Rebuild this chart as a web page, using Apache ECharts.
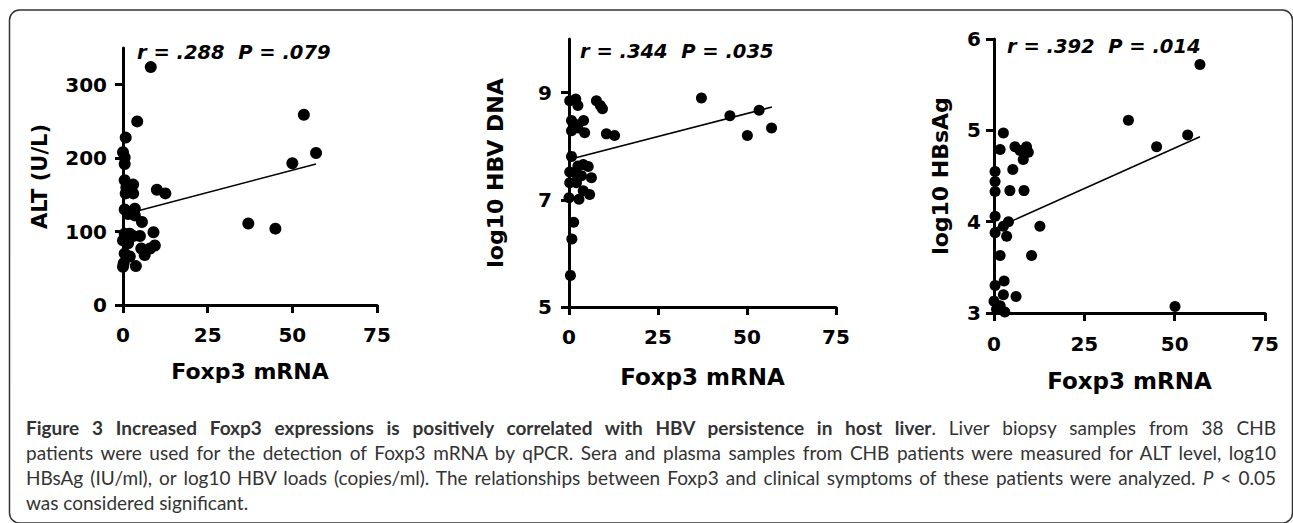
<!DOCTYPE html>
<html>
<head>
<meta charset="utf-8">
<title>Foxp3 mRNA correlations</title>
<script src="https://cdn.jsdelivr.net/npm/echarts@6.0.0/dist/echarts.min.js"></script>
<style>
  html, body { margin: 0; padding: 0; background: #fff; }
  #wrap { position: relative; width: 1293px; height: 523px; overflow: hidden; }
  #chart { width: 1293px; height: 523px; }
  .caption {
    position: absolute; left: 26px; top: 415px; width: 1250px;
    font-family: Lato; font-size: 19px; line-height: 25px; color: #333;
  }
  .caption div { text-align: justify; text-align-last: justify; }
  .caption div.last { text-align-last: left; }
</style>
</head>
<body>
<div id="wrap">
  <div id="chart"></div>
  <div class="caption">
    <div><b>Figure 3 Increased Foxp3 expressions is positively correlated with HBV persistence in host liver</b>. Liver biopsy samples from 38 CHB</div>
    <div>patients were used for the detection of Foxp3 mRNA by qPCR. Sera and plasma samples from CHB patients were measured for ALT level, log10</div>
    <div>HBsAg (IU/ml), or log10 HBV loads (copies/ml). The relationships between Foxp3 and clinical symptoms of these patients were analyzed. <i>P</i> &lt; 0.05</div>
    <div class="last">was considered significant.</div>
  </div>
</div>
<script>
// 横轴在三个面板里都一样
const xTicks = [0, 25, 50, 75];
const xName = 'Foxp3 mRNA';

// 面板一：ALT
const altFoxp3 = [8.2, 4.2, 0.8, 0, 0.5, 0.5, 0.5, 1, 3, 3, 0.8, 10, 12.5, 0.5, 3.5, 1.5, 3.5, 5.6, 0.5, 2,
  3, 5, 9, 0, 1.5, 0.5, 2, 5.4, 6.4, 8, 9.4, 0.2, 0, 3.8, 37, 45, 50, 53.4, 57];
const altLevel = [324, 250, 228, 208, 201, 192, 170, 160, 164, 152, 152, 157, 152, 130, 131, 124, 122, 113, 97, 97,
  94, 94, 99, 88, 84, 70, 66, 77, 68, 77, 81, 57, 52, 53, 111, 104, 193, 259, 207];
const altTicks = [0, 100, 200, 300];
const altFitX = [0, 57];
const altFitY = [123, 192];

// 面板二：log10 HBV DNA
const dnaFoxp3 = [0.2, 1.9, 2.5, 7.7, 8.8, 9.4, 37.2, 45.2, 53.4, 50.1, 56.9, 0.7, 2.5, 4.1, 0.7, 2.5, 4.4, 10.5,
  12.8, 0.7, 0.2, 2.5, 4.0, 5.4, 6.3, 2.1, 0.2, 2.1, 4.0, 5.8, 2.8, 0, 1.3, 0.8, 0.4, 3.5];
const dnaLevel = [8.85, 8.88, 8.76, 8.85, 8.76, 8.7, 8.9, 8.57, 8.67, 8.2, 8.34, 8.48, 8.4, 8.48, 8.29, 8.34, 8.25,
  8.23, 8.2, 7.81, 7.52, 7.63, 7.66, 7.62, 7.41, 7.48, 7.32, 7.32, 7.17, 7.1, 7.01, 7.04, 6.58, 6.27, 5.59, 7.45];
const dnaTicks = [5, 7, 9];
const dnaFitX = [0, 57];
const dnaFitY = [7.75, 8.73];

// 面板三：log10 HBsAg
const hbsFoxp3 = [57, 37.2, 53.6, 45, 50.1, 2.6, 1.7, 5.8, 7.2, 9, 9.5, 8.1, 5.2, 0.3, 0.3, 0.3, 4.4, 8.3, 0.3, 4,
  2.6, 0.3, 3.5, 12.7, 10.4, 1.7, 2.8, 0.3, 2.6, 6.1, 0, 0.7, 3, 1.7];
const hbsLevel = [5.72, 5.11, 4.95, 4.82, 3.07, 4.97, 4.79, 4.82, 4.78, 4.82, 4.76, 4.68, 4.57, 4.55, 4.44, 4.33,
  4.34, 4.34, 4.06, 4.0, 3.95, 3.88, 3.84, 3.95, 3.63, 3.63, 3.35, 3.3, 3.2, 3.18, 3.13, 3.04, 3.01, 3.08];
const hbsTicks = [3, 4, 5, 6];
const hbsFitX = [0, 57];
const hbsFitY = [3.92, 4.93];

const yNames = ['ALT (U/L)', 'log10 HBV DNA', 'log10 HBsAg'];
const statLabels = ['r = .288  P = .079', 'r = .344  P = .035', 'r = .392  P = .014'];

const FONT = 'DejaVu Sans';

function pairs(xs, ys) {
  return xs.map((x, i) => [x, ys[i]]);
}

// 公共的坐标轴样式，ticks 决定刻度和标签位置
function makeAxis(ticks, opt) {
  return {
    type: 'value',
    gridIndex: opt.grid,
    min: opt.min,
    max: opt.max,
    name: opt.name,
    nameLocation: 'middle',
    nameGap: opt.nameGap,
    nameTextStyle: { color: '#000', fontFamily: FONT, fontWeight: 'bold', fontSize: opt.nameSize },
    splitLine: { show: false },
    axisLine: { show: true, onZero: false, lineStyle: { color: '#000', width: 3 } },
    axisTick: { show: true, length: 8, customValues: ticks, lineStyle: { color: '#000', width: 3 } },
    axisLabel: {
      customValues: ticks, margin: opt.margin, color: '#000',
      fontFamily: FONT, fontWeight: 'bold', fontSize: 20
    }
  };
}

// canvas 下坐标轴线画不出来，改用 svg
const chart = echarts.init(document.getElementById('chart'), null, { renderer: 'svg' });

const option = {
  animation: false,
  grid: [
    { left: 123, top: 48, width: 254, height: 257 },
    { left: 569, top: 39, width: 267, height: 268 },
    { left: 994, top: 39, width: 271, height: 274 }
  ],
  xAxis: [
    makeAxis(xTicks, { grid: 0, min: 0, max: 75, name: xName, nameGap: 55, nameSize: 22, margin: 20 }),
    makeAxis(xTicks, { grid: 1, min: 0, max: 75, name: xName, nameGap: 58, nameSize: 23, margin: 20 }),
    makeAxis(xTicks, { grid: 2, min: 0, max: 75, name: xName, nameGap: 56, nameSize: 23, margin: 21 })
  ],
  yAxis: [
    makeAxis(altTicks, { grid: 0, min: 0, max: 350, name: yNames[0], nameGap: 73, nameSize: 21, margin: 16 }),
    makeAxis(dnaTicks, { grid: 1, min: 5, max: 10, name: yNames[1], nameGap: 63, nameSize: 22, margin: 17 }),
    makeAxis(hbsTicks, { grid: 2, min: 3, max: 6, name: yNames[2], nameGap: 43, nameSize: 22, margin: 13 })
  ],
  series: [
    { type: 'line', xAxisIndex: 0, yAxisIndex: 0, data: pairs(altFitX, altFitY) },
    { type: 'line', xAxisIndex: 1, yAxisIndex: 1, data: pairs(dnaFitX, dnaFitY) },
    { type: 'line', xAxisIndex: 2, yAxisIndex: 2, data: pairs(hbsFitX, hbsFitY) },
    { type: 'scatter', xAxisIndex: 0, yAxisIndex: 0, symbolSize: 12, data: pairs(altFoxp3, altLevel) },
    { type: 'scatter', xAxisIndex: 1, yAxisIndex: 1, symbolSize: 11, data: pairs(dnaFoxp3, dnaLevel) },
    { type: 'scatter', xAxisIndex: 2, yAxisIndex: 2, symbolSize: 11, data: pairs(hbsFoxp3, hbsLevel) }
  ].map((s) => {
    // 回归线在下，点在上
    if (s.type === 'line') {
      return Object.assign(s, { symbol: 'none', silent: true, z: 2, lineStyle: { color: '#000', width: 1.5 } });
    }
    return Object.assign(s, { clip: false, z: 3, itemStyle: { color: '#000', opacity: 1 } });
  }),
  graphic: [
    // 外框
    {
      type: 'rect', silent: true,
      shape: { x: 9.5, y: 10, width: 1283, height: 513, r: 10 },
      style: { fill: 'none', stroke: '#333', lineWidth: 1.5 }
    },
    { type: 'text', x: 137, y: 52, style: { text: statLabels[0], font: 'italic bold 19.5px "DejaVu Sans"', fill: '#000', verticalAlign: 'middle' } },
    { type: 'text', x: 580, y: 51, style: { text: statLabels[1], font: 'italic bold 19.5px "DejaVu Sans"', fill: '#000', verticalAlign: 'middle' } },
    { type: 'text', x: 1007, y: 46, style: { text: statLabels[2], font: 'italic bold 19.5px "DejaVu Sans"', fill: '#000', verticalAlign: 'middle' } }
  ]
};

chart.setOption(option);
</script>
</body>
</html>
